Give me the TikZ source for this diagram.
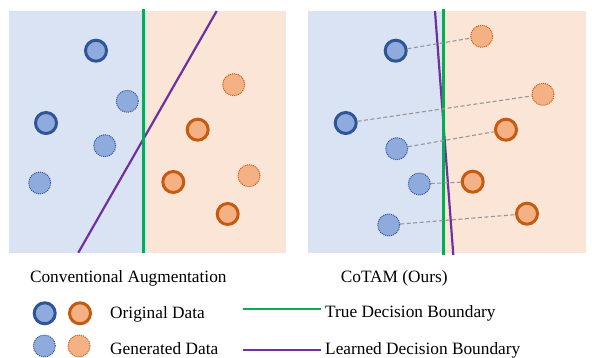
\documentclass[tikz,border=0pt]{standalone}
\usepackage{fontspec}
\setmainfont{Liberation Serif}
\definecolor{bgblue}{HTML}{DAE3F3}
\definecolor{bgorange}{HTML}{FBE5D6}
\definecolor{fillblue}{HTML}{8FAADC}
\definecolor{lineblue}{HTML}{2F5597}
\definecolor{fillorange}{HTML}{F4B183}
\definecolor{lineorange}{HTML}{C55A11}
\definecolor{truegreen}{HTML}{00B050}
\definecolor{learnpurple}{HTML}{7030A0}
\definecolor{linkgray}{HTML}{969696}
\tikzset{
  origb/.style={circle, draw=lineblue, fill=fillblue, line width=3pt, minimum size=21pt, inner sep=0pt},
  origo/.style={circle, draw=lineorange, fill=fillorange, line width=3pt, minimum size=21pt, inner sep=0pt},
  genb/.style={circle, draw=lineblue, fill=fillblue, line width=1pt, dash pattern=on 1pt off 1pt, minimum size=22pt, inner sep=0pt},
  geno/.style={circle, draw=lineorange, fill=fillorange, line width=1pt, dash pattern=on 1pt off 1pt, minimum size=22pt, inner sep=0pt},
  truel/.style={draw=truegreen, line width=2.6pt},
  learnl/.style={draw=learnpurple, line width=2.2pt},
  link/.style={draw=linkgray, line width=1.1pt, dash pattern=on 4pt off 2.5pt},
  lbl/.style={font=\fontsize{17.3}{20}\selectfont, inner sep=0pt, anchor=base}
}
\begin{document}
\begin{tikzpicture}[x=1pt, y=-1pt]
\useasboundingbox (0,0) rectangle (592,358);
% backgrounds
\fill[bgblue] (9,11) rectangle (147,253);
\fill[bgorange] (147,11) rectangle (286,253);
\fill[bgblue] (308,11) rectangle (445,253);
\fill[bgorange] (445,11) rectangle (586,253);
% left panel boundaries
\coordinate (lp1) at (216.7,11);
\coordinate (lp2) at (78.3,252.7);
\coordinate (lg1) at (143.3,9);
\coordinate (lg2) at (143.3,253);
\draw[learnl] (lp1) -- (lp2);
\draw[truel] (lg1) -- (lg2);
% right panel boundaries
\coordinate (rp1) at (435,11);
\coordinate (rp2) at (453.3,255);
\coordinate (rg1) at (443.3,9);
\coordinate (rg2) at (443.3,255);
\draw[learnl] (rp1) -- (rp2);
\draw[truel] (rg1) -- (rg2);
% left panel points
\node[origb] (lb1) at (96,50.7) {};
\node[origb] (lb2) at (46,123) {};
\node[genb] (lb3) at (127.3,101.3) {};
\node[genb] (lb4) at (104.7,145.7) {};
\node[genb] (lb5) at (39.7,183) {};
\node[geno] (lo1) at (233.7,84.7) {};
\node[origo] (lo2) at (197.7,129.7) {};
\node[origo] (lo3) at (173.3,182) {};
\node[geno] (lo4) at (249,175.7) {};
\node[origo] (lo5) at (227.7,214) {};
% right panel points
\node[origb] (rb1) at (395.7,50.7) {};
\node[origb] (rb2) at (345.7,123) {};
\node[genb] (rb3) at (396.7,148.7) {};
\node[genb] (rb4) at (419.3,184) {};
\node[genb] (rb5) at (388.7,225) {};
\node[geno] (ro1) at (481.7,36.3) {};
\node[geno] (ro2) at (543,94.3) {};
\node[origo] (ro3) at (506,129.7) {};
\node[origo] (ro4) at (472.7,181.7) {};
\node[origo] (ro5) at (527,213.7) {};
% links
\draw[link] (rb1) -- (ro1);
\draw[link] (rb2) -- (ro2);
\draw[link] (rb3) -- (ro3);
\draw[link] (rb4) -- (ro4);
\draw[link] (rb5) -- (ro5);
% captions
\node[lbl] (cap1) at (128.3,282.3) {Conventional Augmentation};
\node[lbl] (cap2) at (394.2,282.3) {CoTAM (Ours)};
% legend
\node[origb] (kb1) at (44.7,313.3) {};
\node[origo] (ko1) at (80,313.3) {};
\node[genb] (kb2) at (44.3,346) {};
\node[geno] (ko2) at (79,346) {};
\node[lbl, anchor=base west] (korig) at (110,319) {Original Data};
\node[lbl, anchor=base west] (kgen) at (110,354.3) {Generated Data};
\coordinate (kg1) at (243.3,309);
\coordinate (kg2) at (321,309);
\coordinate (kp1) at (243.3,350);
\coordinate (kp2) at (321,350);
\draw[truel] (kg1) -- (kg2);
\draw[learnl] (kp1) -- (kp2);
\node[lbl, anchor=base west] (ktrue) at (325,317.3) {True Decision Boundary};
\node[lbl, anchor=base west] (klearn) at (325,354) {Learned Decision Boundary};
\end{tikzpicture}
\end{document}
